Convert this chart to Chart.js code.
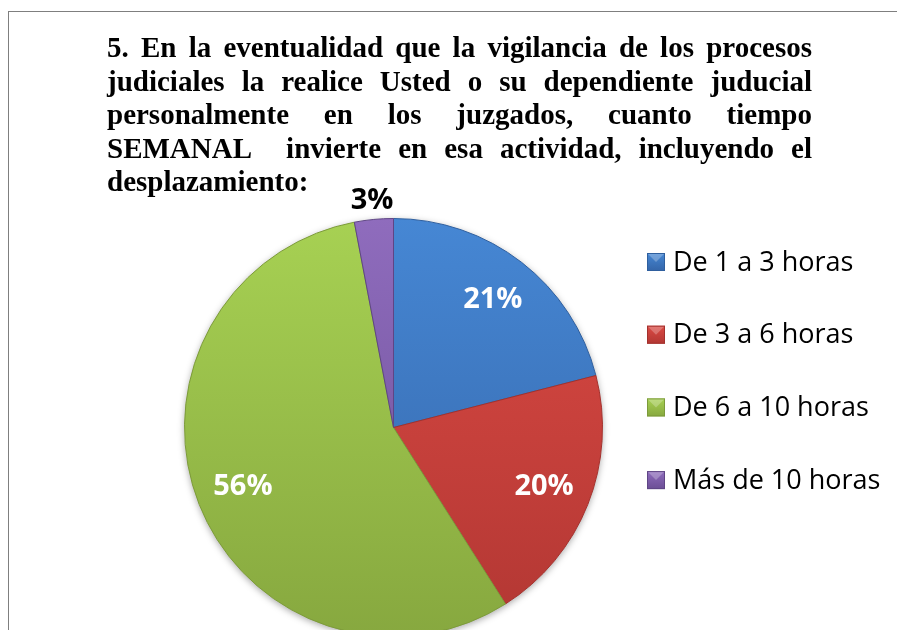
<!DOCTYPE html>
<html>
<head>
<meta charset="utf-8">
<script src="https://cdn.jsdelivr.net/npm/chart.js@4.4.1/dist/chart.umd.min.js"></script>
<style>
  html, body { margin: 0; padding: 0; background: #fff; overflow: hidden; }
  #wrap { position: relative; width: 897px; height: 630px; overflow: hidden; }
  #marco { position: absolute; left: 8px; top: 11px; width: 950px; height: 700px;
           border-left: 1px solid #7f7f7f; border-top: 1px solid #7f7f7f; }
  #grafico { position: absolute; left: 0; top: 0; }
  #titulo { position: absolute; left: 107px; top: 31px; width: 705px;
            font: bold 29px "Liberation Serif", "Times New Roman", serif;
            line-height: 33.5px; color: #000; }
  #titulo div { text-align: justify; text-align-last: justify; }
  #titulo div.ultima { text-align: left; text-align-last: left; }
</style>
</head>
<body>
<div id="wrap">
  <div id="marco"></div>
  <canvas id="grafico" width="897" height="660"></canvas>
  <div id="titulo"></div>
</div>
<script>
const tituloLineas = [
    "5. En la eventualidad que la vigilancia de los procesos",
    "judiciales la realice Usted o su dependiente juducial",
    "personalmente en los juzgados, cuanto tiempo",
    "SEMANAL\u00a0 invierte en esa actividad, incluyendo el",
    "desplazamiento:",
];
const categorias = [
    "De 1 a 3 horas",
    "De 3 a 6 horas",
    "De 6 a 10 horas",
    "Más de 10 horas",
];
const porcentajes = [21, 20, 56, 3];

// colores tipo Office 2007: [claro, oscuro]
const coloresClaros = ["#4687d4", "#dc4a44", "#a7d153", "#8f6cbd"];
const coloresOscuros = ["#3465a8", "#b23733", "#87a83f", "#6b4e95"];
const bordes = ["#2f5f9e", "#a3312d", "#7c9a3a", "#5f4585"];

// titulo en texto justificado
const titulo = document.getElementById("titulo");
tituloLineas.forEach((linea, i) => {
    const div = document.createElement("div");
    div.textContent = linea;
    if (i === tituloLineas.length - 1) div.className = "ultima";
    titulo.appendChild(div);
});

const cacheGradientes = {};
function gradiente(context) {
    const chart = context.chart;
    const area = chart.chartArea;
    const i = context.dataIndex;
    if (!area) return coloresClaros[i];
    const clave = i + ":" + area.top + ":" + area.bottom;
    if (!cacheGradientes[clave]) {
        const g = chart.ctx.createLinearGradient(0, area.top, 0, area.bottom);
        g.addColorStop(0, coloresClaros[i]);
        g.addColorStop(1, coloresOscuros[i]);
        cacheGradientes[clave] = g;
    }
    return cacheGradientes[clave];
}

// sombra suave detras del pastel
const sombraPlugin = {
    id: "sombra",
    beforeDatasetsDraw(chart) {
        const arco = chart.getDatasetMeta(0).data[0];
        if (!arco) return;
        const ctx = chart.ctx;
        ctx.save();
        ctx.shadowColor = "rgba(0,0,0,0.35)";
        ctx.shadowBlur = 7;
        ctx.shadowOffsetY = 2;
        ctx.fillStyle = "#fff";
        ctx.beginPath();
        ctx.arc(arco.x, arco.y, arco.outerRadius, 0, Math.PI * 2);
        ctx.fill();
        ctx.restore();
    },
};

// etiquetas de porcentaje sobre cada porcion
const etiquetasPlugin = {
    id: "etiquetas",
    afterDatasetsDraw(chart) {
        const ctx = chart.ctx;
        const meta = chart.getDatasetMeta(0);
        ctx.save();
        ctx.font = "bold 29px 'Open Sans'";
        ctx.textAlign = "center";
        ctx.textBaseline = "middle";
        meta.data.forEach((arco, i) => {
            const p = arco.getProps(["x", "y", "startAngle", "endAngle", "outerRadius"], true);
            const medio = (p.startAngle + p.endAngle) / 2;
            const fuera = porcentajes[i] < 5;
            const r = p.outerRadius * (fuera ? 1.09 : 0.775);
            ctx.fillStyle = fuera ? "#000" : "#fff";
            ctx.fillText(porcentajes[i] + "%", p.x + Math.cos(medio) * r, p.y + Math.sin(medio) * r);
        });
        ctx.restore();
    },
};

// leyenda a la derecha
const leyendaPlugin = {
    id: "leyendaDerecha",
    afterDraw(chart) {
        const ctx = chart.ctx;
        const x = 647, y0 = 262, paso = 72.7, lado = 18;
        ctx.save();
        ctx.font = "27px 'Open Sans'";
        ctx.textBaseline = "middle";
        ctx.textAlign = "left";
        chart.data.labels.forEach((etiqueta, i) => {
            const y = y0 + i * paso;
            const g = ctx.createLinearGradient(0, y - lado / 2, 0, y + lado / 2);
            g.addColorStop(0, coloresClaros[i]);
            g.addColorStop(1, coloresOscuros[i]);
            ctx.fillStyle = g;
            ctx.fillRect(x, y - lado / 2, lado, lado);
            // bisel superior
            ctx.fillStyle = "rgba(255,255,255,0.25)";
            ctx.beginPath();
            ctx.moveTo(x, y - lado / 2);
            ctx.lineTo(x + lado, y - lado / 2);
            ctx.lineTo(x + lado / 2, y);
            ctx.closePath();
            ctx.fill();
            ctx.strokeStyle = bordes[i];
            ctx.lineWidth = 1;
            ctx.strokeRect(x + 0.5, y - lado / 2 + 0.5, lado - 1, lado - 1);
            ctx.fillStyle = "#000";
            ctx.fillText(etiqueta, x + 26, y + 1);
        });
        ctx.restore();
    },
};

document.addEventListener("DOMContentLoaded", function () {
    const canvas = document.getElementById("grafico");
    new Chart(canvas, {
        type: "pie",
        data: {
            labels: categorias,
            datasets: [
                {
                    data: porcentajes,
                    backgroundColor: gradiente,
                    borderColor: bordes,
                    borderWidth: 1,
                },
            ],
        },
        options: {
            responsive: false,
            animation: false,
            devicePixelRatio: 1,
            layout: {
                padding: { left: 184, right: 294, top: 218, bottom: 23 },
            },
            plugins: {
                legend: { display: false },
                title: { display: false },
                tooltip: { enabled: false },
            },
        },
        plugins: [sombraPlugin, etiquetasPlugin, leyendaPlugin],
    });
});
</script>
</body>
</html>
